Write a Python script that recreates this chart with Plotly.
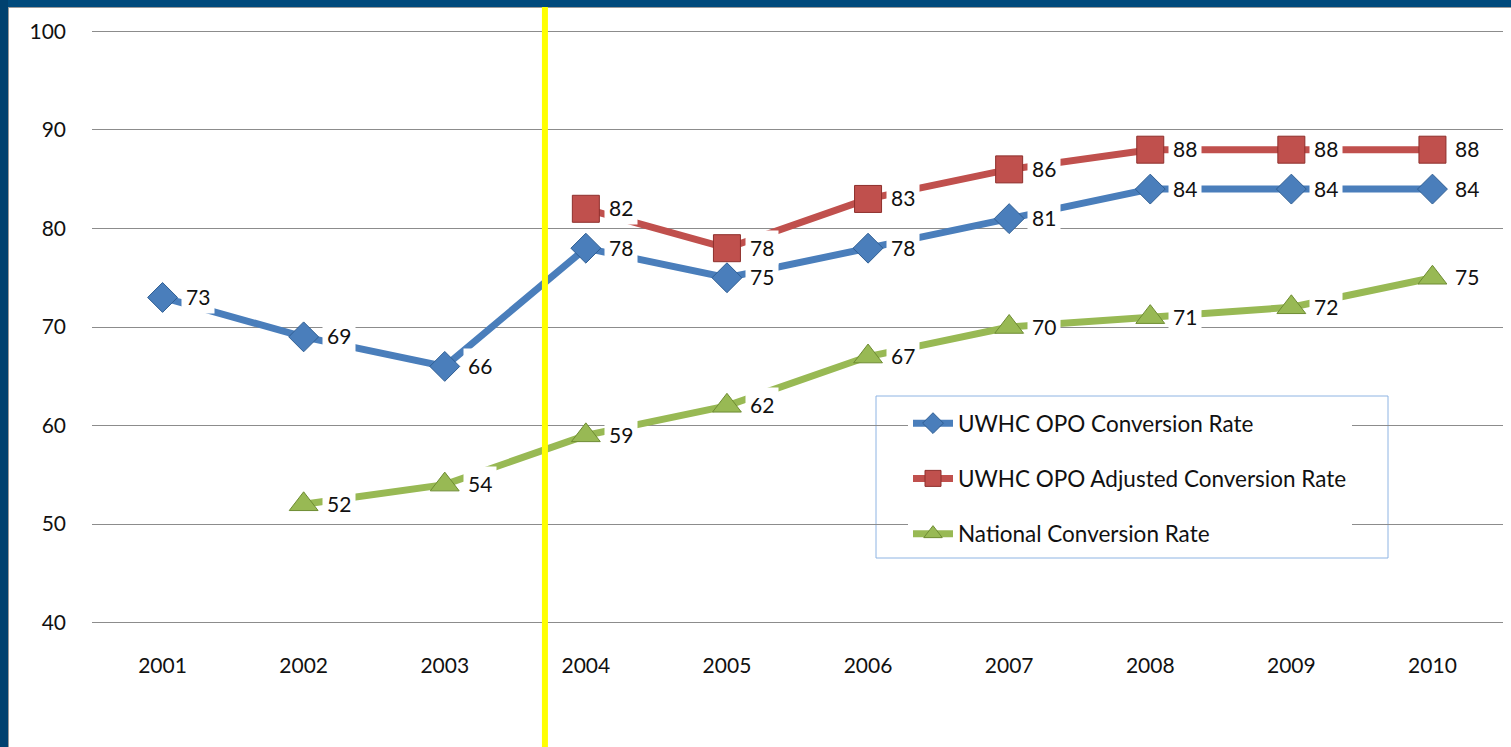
import plotly.graph_objects as go

years = ["2001", "2002", "2003", "2004", "2005", "2006", "2007", "2008", "2009", "2010"]
uwhc = [73, 69, 66, 78, 75, 78, 81, 84, 84, 84]
adjusted = [None, None, None, 82, 78, 83, 86, 88, 88, 88]
national = [None, 52, 54, 59, 62, 67, 70, 71, 72, 75]
y_ticks = [40, 50, 60, 70, 80, 90, 100]

series_names = ["UWHC OPO Conversion Rate", "UWHC OPO Adjusted Conversion Rate", "National Conversion Rate"]
series_values = [uwhc, adjusted, national]
line_colors = ["#4A7EBB", "#C0504D", "#98B954"]
marker_edges = ["#2F5E93", "#8E2F2C", "#6E8C33"]
symbols = ["diamond", "square", "triangle-up"]
sizes = [23, 27, 25]

FONT = "Lato"
fig = go.Figure()
for i, (name, vals) in enumerate(zip(series_names, series_values)):
    fig.add_trace(go.Scatter(
        x=years, y=vals, name=name, mode="lines+markers",
        line=dict(color=line_colors[i], width=7),
        marker=dict(symbol=symbols[i], size=sizes[i], color=line_colors[i],
                    line=dict(color=marker_edges[i], width=1)),
        legendgroup=f"g{i}", connectgaps=False,
    ))
    for xi, v in enumerate(vals):
        if v is None:
            continue
        fig.add_annotation(x=xi, y=v, xref="x", yref="y", text=str(v), showarrow=False,
                           xanchor="left", yanchor="middle", xshift=18, yshift=1,
                           bgcolor="white", borderpad=4,
                           font=dict(family=FONT, size=21, color="#111111"))

W, H = 1511, 747
L, R, T, B = 92, 8, 30, 123
pw, ph = W - L - R, H - T - B

def px_x(p):
    return (p - L) / pw

def px_y(p):
    return (H - B - p) / ph

shapes = [
    # slide border: top band and left band
    dict(type="rect", xref="paper", yref="paper", x0=px_x(0), x1=px_x(W), y0=px_y(7), y1=px_y(0),
         fillcolor="#004A7C", line=dict(width=0), layer="above"),
    dict(type="rect", xref="paper", yref="paper", x0=px_x(0), x1=px_x(8), y0=px_y(H), y1=px_y(0),
         fillcolor="#00416F", line=dict(width=0), layer="above"),
    dict(type="line", xref="paper", yref="paper", x0=px_x(8.5), x1=px_x(8.5), y0=px_y(H), y1=px_y(7),
         line=dict(color="#9A9A9A", width=1), layer="above"),
    dict(type="line", xref="paper", yref="paper", x0=px_x(8), x1=px_x(W), y0=px_y(7.5), y1=px_y(7.5),
         line=dict(color="#9A9A9A", width=1), layer="above"),
    # yellow divider between 2003 and 2004
    dict(type="line", xref="x", yref="paper", x0=2.71, x1=2.71, y0=px_y(H), y1=px_y(7),
         line=dict(color="#FFFF00", width=6), layer="above"),
    # legend frame
    dict(type="rect", xref="paper", yref="paper", x0=px_x(876), x1=px_x(1388), y0=px_y(558), y1=px_y(396),
         line=dict(color="#8EB4E3", width=1), fillcolor="rgba(0,0,0,0)", layer="below"),
]

fig.update_layout(
    width=W, height=H,
    margin=dict(l=L, r=R, t=T, b=B),
    paper_bgcolor="white", plot_bgcolor="white",
    font=dict(family=FONT, size=21, color="#111111"),
    showlegend=True,
    legend=dict(x=px_x(908), y=px_y(402), xanchor="left", yanchor="top",
                bgcolor="rgba(255,255,255,1)", borderwidth=0,
                font=dict(family=FONT, size=22.5, color="#111111"),
                tracegroupgap=23, itemwidth=40),
    xaxis=dict(type="category", showgrid=False, showline=False, ticks="", zeroline=False,
               ticklabelstandoff=27,
               tickfont=dict(family=FONT, size=21, color="#111111"), range=[-0.5, 9.5]),
    yaxis=dict(range=[39.85, 100.15], tickvals=y_ticks, showgrid=True, gridcolor="#8C8C8C", gridwidth=1,
               zeroline=False, showline=False, ticks="", ticklabelstandoff=25,
               tickfont=dict(family=FONT, size=21, color="#111111")),
    shapes=shapes,
)

fig.write_html("out.html", config={"displayModeBar": False},
               post_script="document.body.style.margin='0';document.body.style.overflow='hidden';")
